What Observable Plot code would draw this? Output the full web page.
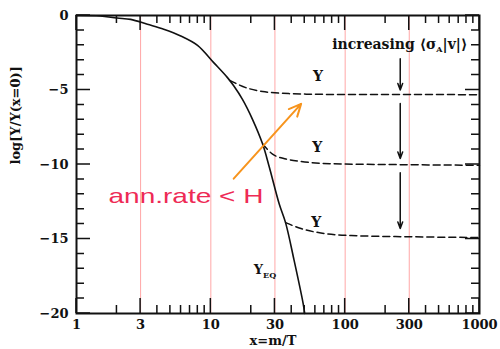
<!DOCTYPE html>
<html><head><meta charset="utf-8">
<script src="https://cdn.jsdelivr.net/npm/d3@7"></script>
<script src="https://cdn.jsdelivr.net/npm/@observablehq/plot@0.6"></script>
<style>html,body{margin:0;padding:0;background:#fff}svg{display:block}</style>
</head><body><div id="chart"></div>
<script>
// Equilibrium curve Y_EQ
const eqX = [1, 1.5, 2, 2.53, 3.37, 4.46, 5.97, 7.96, 10.5, 13.3, 14.8, 17.2, 20.5, 24.3, 27.2, 32.3, 36, 41.6, 48.6, 50];
const eqY = [0, -0.03, -0.17, -0.26, -0.59, -0.92, -1.37, -2.0, -3.16, -4.17, -4.72, -5.63, -7.0, -8.63, -10.15, -12.65, -13.9, -16.4, -19.3, -20];
// Freeze-out curves (dashed)
const y1X = [13.8, 18.2, 24.3, 28.2, 40, 53, 100, 300, 1000];
const y1Y = [-4.35, -4.84, -5.1, -5.17, -5.25, -5.28, -5.3, -5.3, -5.32];
const y2X = [24.3, 28.8, 36.2, 47, 82, 200, 1000];
const y2Y = [-8.63, -9.3, -9.63, -9.8, -9.95, -10.0, -10.05];
const y3X = [36, 46.9, 66, 111, 300, 1000];
const y3Y = [-13.9, -14.3, -14.6, -14.77, -14.85, -14.9];
// Axis ticks
const majorX = [1, 3, 10, 30, 100, 300, 1000];
const minorX = [2, 4, 5, 6, 7, 8, 9, 20, 40, 50, 60, 70, 80, 90, 200, 400, 500, 600, 700, 800, 900];
const majorY = [0, -5, -10, -15, -20];
const minorY = [-1, -2, -3, -4, -6, -7, -8, -9, -11, -12, -13, -14, -16, -17, -18, -19];
// Arrows "increasing <sigma_A|v|>"
const arrowX = [257, 257, 257];
const arrowFrom = [-2.9, -5.9, -10.55];
const arrowTo = [-5.0, -9.6, -14.3];
// Labels
const yLabelX = [62.9, 62, 61];
const yLabelY = [-4.12, -8.87, -13.9];
const eqLabel = {x: 20.9, y: -17.1};
const incLabel = {x: 255, y: -1.98, text: "increasing"};
const annArrow = {x1: 14.8, y1: -10.95, x2: 47, y2: -5.93};
const annLabel = {x: 1.73, y: -12.1, text: "ann.rate < H"};
const xTitle = "x=m/T";
const yTitle = "log[Y/Y(x=0)]";

const toPts = (xs, ys) => xs.map((x, i) => ({x, y: ys[i]}));
const serif = "DejaVu Serif";
const ink = "#111";
const xDom = [1, 1000], yDom = [-20, 0];

const chart = Plot.plot({
  width: 500, height: 349,
  marginLeft: 76, marginRight: 21, marginTop: 15, marginBottom: 36,
  style: {fontFamily: serif, fontWeight: "bold", fontSize: "13px", color: ink, background: "#fff"},
  x: {type: "log", domain: xDom, axis: null},
  y: {domain: yDom, axis: null},
  marks: [
    Plot.ruleX(majorX, {x: d => d, stroke: "red", strokeOpacity: 0.35}),
    Plot.frame({stroke: ink, strokeWidth: 2, fill: "none"}),
    // curves
    Plot.line(toPts(eqX, eqY), {x: "x", y: "y", curve: "catmull-rom", stroke: ink, strokeWidth: 1.6}),
    Plot.line(toPts(y1X, y1Y), {x: "x", y: "y", curve: "monotone-x", stroke: ink, strokeWidth: 1.5, strokeDasharray: "7,4"}),
    Plot.line(toPts(y2X, y2Y), {x: "x", y: "y", curve: "monotone-x", stroke: ink, strokeWidth: 1.5, strokeDasharray: "7,4"}),
    Plot.line(toPts(y3X, y3Y), {x: "x", y: "y", curve: "monotone-x", stroke: ink, strokeWidth: 1.5, strokeDasharray: "7,4"}),
    // tick labels
    Plot.text(majorX, {x: d => d, frameAnchor: "bottom", dy: 15, text: d => String(d), fontSize: 13, fill: ink}),
    Plot.text(majorY, {y: d => d, frameAnchor: "left", dx: -8, textAnchor: "end", text: d => d === 0 ? "0" : "\u2212" + Math.abs(d), fontSize: 13, fill: ink}),
    // vertical arrows
    Plot.arrow(arrowX.map((x, i) => ({x, y1: arrowFrom[i], y2: arrowTo[i]})),
      {x: "x", y1: "y1", y2: "y2", stroke: ink, strokeWidth: 1.5, headLength: 7, headAngle: 40}),
    // labels
    Plot.text(yLabelX.map((x, i) => ({x, y: yLabelY[i]})), {x: "x", y: "y", text: () => "Y", fontSize: 14, fontWeight: "bold", fill: ink}),
    Plot.text([eqLabel], {x: "x", y: "y", text: () => "YEQ", textAnchor: "start", fontSize: 13, fontWeight: "bold", fill: ink, className: "eqlabel"}),
    Plot.text([incLabel], {x: "x", y: "y", text: "text", fontSize: 14, fontWeight: "bold", fill: ink, className: "inclabel"}),
    Plot.text([xTitle], {frameAnchor: "bottom", dy: 31, dx: -5, text: d => d, fontSize: 13, fill: ink}),
    Plot.text([yTitle], {frameAnchor: "left", dx: -61, rotate: -90, text: d => d, fontSize: 13, fill: ink}),
    // annotation
    Plot.arrow([annArrow], {x1: "x1", y1: "y1", x2: "x2", y2: "y2", stroke: "#f7941d", strokeWidth: 2, headLength: 10, headAngle: 50}),
    Plot.text([annLabel], {x: "x", y: "y", text: "text", textAnchor: "start", fontFamily: "Liberation Sans", fontWeight: "normal", fontSize: 21, fill: "#ee2a55", className: "annlabel"})
  ]
});
const NS = "http://www.w3.org/2000/svg";
// inward tick marks placed through the chart's own scales
const sx = chart.scale("x"), sy = chart.scale("y");
const X = v => sx.apply(v), Y = v => sy.apply(v);
const [px0, px1] = [X(xDom[0]), X(xDom[1])];
const [py0, py1] = [Y(yDom[0]), Y(yDom[1])];
let dPath = "";
const tx = (vals, len) => vals.forEach(v => {
  const x = X(v);
  dPath += `M${x},${py0}v${-len}M${x},${py1}v${len}`;
});
const ty = (vals, len) => vals.forEach(v => {
  const y = Y(v);
  dPath += `M${px0},${y}h${len}M${px1},${y}h${-len}`;
});
tx(majorX, 15); tx(minorX, 8); ty(majorY, 14); ty(minorY, 8);
const tickG = document.createElementNS(NS, "path");
tickG.setAttribute("d", dPath);
tickG.setAttribute("stroke", ink);
tickG.setAttribute("stroke-width", "1.5");
tickG.setAttribute("fill", "none");
chart.appendChild(tickG);
// sub-scripts as real text
const eqT = chart.querySelector("g.eqlabel text");
if (eqT) {
  eqT.textContent = "Y";
  const s = document.createElementNS(NS, "tspan");
  s.setAttribute("font-size", "8"); s.setAttribute("dy", "4"); s.textContent = "EQ";
  eqT.appendChild(s);
}
const incT = chart.querySelector("g.inclabel text");
if (incT) {
  incT.textContent = "increasing \u27E8\u03C3";
  const a = document.createElementNS(NS, "tspan");
  a.setAttribute("font-size", "8"); a.setAttribute("dy", "3"); a.textContent = "A";
  const b = document.createElementNS(NS, "tspan");
  b.setAttribute("dy", "-3"); b.textContent = "|v|\u27E9";
  incT.appendChild(a); incT.appendChild(b);
}
const annT = chart.querySelector("g.annlabel text");
if (annT) {
  annT.setAttribute("textLength", "155");
  annT.setAttribute("lengthAdjust", "spacingAndGlyphs");
}
document.getElementById("chart").appendChild(chart);
</script>
</body></html>
